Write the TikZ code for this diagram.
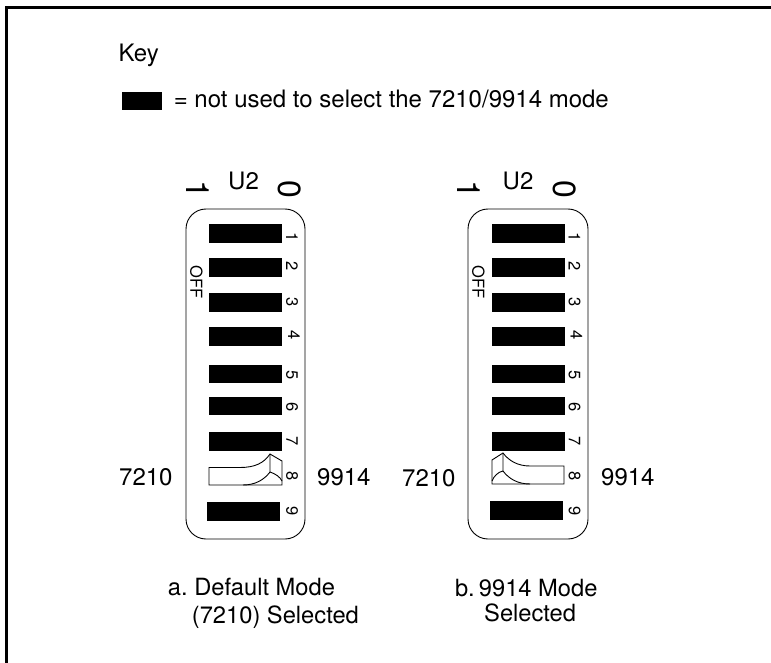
\documentclass[tikz,border=0pt]{standalone}
\usepackage{fontspec}
\setmainfont{TeX Gyre Heros}
\frenchspacing
\tikzset{
  frameline/.style={line width=3pt},
  bar/.style={fill=black,draw=none,minimum width=73pt,minimum height=18.8pt,inner sep=0pt},
  lbl/.style={font=\fontsize{24}{28}\selectfont,inner sep=0pt,anchor=base west},
  capt/.style={font=\fontsize{23.7}{28}\selectfont,inner sep=0pt,anchor=base west},
  num/.style={font=\fontsize{16.5}{20}\selectfont,inner sep=0pt,rotate=-90},
  big/.style={font=\fontsize{32}{36}\selectfont,inner sep=0pt,rotate=-90},
  offl/.style={font=\fontsize{16.5}{20}\selectfont,inner sep=0pt,rotate=-90},
  bodyshape/.style={draw,line width=0.9pt,rounded corners=20pt},
  sw/.style={draw,line width=0.9pt},
}
\begin{document}
\begin{tikzpicture}[x=1pt,y=-1pt]
\useasboundingbox (0,0) rectangle (771,663);
\coordinate (fa) at (6.5,663);
\coordinate (fb) at (6.5,7.5);
\coordinate (fc) at (771,7.5);
\draw[frameline] (fa) -- (fb) -- (fc);
\node[lbl] (key) at (118.5,62) {Key};
\node[fill=black,minimum width=40pt,minimum height=18.5pt,inner sep=0pt] (keybar) at (142,101) {};
\node[lbl] (keytext) at (173.6,107.5) {= not used to select the 7210/9914 mode};
% left
\draw[bodyshape] (186,209) rectangle (305,539);
\node[lbl] (ua) at (228,190) {U2};
\node[big] (onea) at (197.5,189.5) {1};
\node[big] (zeroa) at (290,189.5) {0};
\node[offl] (offa) at (196.5,282) {OFF};
\foreach \n/\y in {1/233.5,2/267.5,3/302.5,4/336.5,5/374,6/406,7/441.5}{
  \node[bar] (a\n) at (245.5,\y) {};
}
\node[bar] (a9) at (243.5,511.5) {};
\foreach \n/\x/\y in {1/292/237,2/292/266,3/292/302,4/294/335,5/292/375,6/292/407,7/292/441.5,8/292/476,9/292/511.5}{
  \node[num] (na\n) at (\x,\y) {\n};
}
\draw[sw] (209,467.5) -- (209,485) -- (282,485) -- (282,461) -- (270,454) .. controls (264,463) and (255,467.5) .. (240,467.5) -- cycle;
\draw[sw] (270,454) -- (270,472) .. controls (276,474) and (280,477) .. (282,481);
\draw[sw] (270,472) .. controls (264,480) and (255,485) .. (243,485);
\node[lbl] (l7a) at (119,485.5) {7210};
\node[lbl] (l9a) at (317,485.5) {9914};
\node[capt] (capa1) at (167.7,595) {a. Default Mode};
\node[capt] (capa2) at (191.7,623) {(7210) Selected};
% right
\draw[bodyshape] (468,209) rectangle (588,539);
\node[lbl] (ub) at (502.5,190) {U2};
\node[big] (oneb) at (469,189.5) {1};
\node[big] (zerob) at (564.7,189.5) {0};
\node[offl] (offb) at (478.5,282) {OFF};
\foreach \n/\y in {1/233.5,2/267.5,3/302.5,4/336.5,5/374,6/406,7/441.5}{
  \node[bar] (b\n) at (528.3,\y) {};
}
\node[bar] (b9) at (526,510.5) {};
\foreach \n/\x/\y in {1/574.5/237,2/574.5/266,3/574.5/302,4/576.5/335,5/574.5/375,6/574.5/407,7/574.5/441.5,8/574.5/476,9/574.5/511}{
  \node[num] (nb\n) at (\x,\y) {\n};
}
\draw[sw] (564,466) -- (564,484) -- (492,484) -- (492,460) -- (503,453) .. controls (509,461) and (518,466) .. (530,466) -- cycle;
\draw[sw] (503,453) -- (503,471) .. controls (498,472) and (494,476) .. (492,481);
\draw[sw] (503,471) .. controls (509,479) and (518,484) .. (530,484);
\node[lbl] (l7b) at (402,486) {7210};
\node[lbl] (l9b) at (601,485.5) {9914};
\node[capt] (capb1) at (454.8,596) {b.\hspace{-2.4pt} 9914 Mode};
\node[capt] (capb2) at (484,621.5) {Selected};
\end{tikzpicture}
\end{document}
